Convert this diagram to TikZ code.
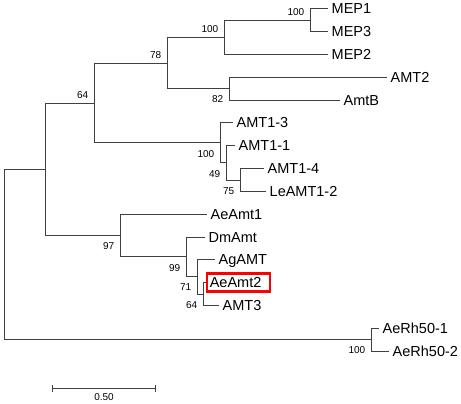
\documentclass[tikz,border=0pt]{standalone}
\usepackage{fontspec}
\setmainfont{Liberation Sans}
\usetikzlibrary{arrows.meta}

\begin{document}
\begin{tikzpicture}[x=1pt,y=-1pt,
    treeline/.style={draw=black!75,line width=1pt},
    leaf/.style={anchor=west,inner xsep=3.5pt,inner ysep=0pt,
      text height=10pt,text depth=0pt,font=\fontsize{14.5}{16}\selectfont},
    bootnum/.style={inner sep=0pt,font=\fontsize{10}{12}\selectfont},
    bootup/.style={bootnum,anchor=south east,xshift=-5.5pt,yshift=4.5pt},
    bootdown/.style={bootnum,anchor=north east,xshift=-5.5pt,yshift=-7pt}]
      \useasboundingbox (0,0) rectangle (461,404);

      %%%%%%%%%%%%%%%%%%%%%%%%%%%%%%%%%%%%%%%%%%%%%%%%%%%%%%%%%%%%%%%%%%%%%%%%%%%
      %%%%  Leaves (one row every 22.8)
      \foreach \i/\nm/\txt/\e in {0/mep1/MEP1/328,1/mep3/MEP3/328,2/mep2/MEP2/328,
          3/amt2/AMT2/387,4/amtb/AmtB/340,5/amt13/AMT1-3/233,6/amt11/AMT1-1/235,
          7/amt14/AMT1-4/264,8/leamt12/LeAMT1-2/266,9/aeamt1/AeAmt1/207,
          10/dmamt/DmAmt/205,11/agamt/AgAMT/215,13/amt3/AMT3/219,
          14/aerh1/AeRh50-1/379,15/aerh2/AeRh50-2/389}
       {\pgfmathsetmacro\yy{9 + 22.8*\i}
        \node[leaf] (\nm) at (\e,\yy) {\txt};
       };

      % the one in the red box
      \node[leaf,draw=red,line width=2.6pt,inner xsep=3pt,text width=57pt,
        align=left,minimum height=18pt] (aeamt2) at (205.5,282.6) {AeAmt2};

      %%%%%%%%%%%%%%%%%%%%%%%%%%%%%%%%%%%%%%%%%%%%%%%%%%%%%%%%%%%%%%%%%%%%%%%%%%%
      %%%%  Inner nodes
      \coordinate (root) at (4,254.5);
      \coordinate (n1) at (45,169.3);
      \coordinate (n2) at (94,103.05);
      \coordinate (n3) at (167,63.15);
      \coordinate (n4) at (224,37.5);
      \coordinate (n5) at (310,20.4);
      \coordinate (n6) at (229,88.8);
      \coordinate (n7) at (220,142.95);
      \coordinate (n8) at (226,162.9);
      \coordinate (n9) at (240,180);
      \coordinate (n10) at (120,235.6);
      \coordinate (n11) at (186,256.95);
      \coordinate (n12) at (197,276.9);
      \coordinate (n13) at (203,294);
      \coordinate (n14) at (371,339.6);

      \foreach \p/\c in {root/n1,root/n14,n1/n2,n1/n10,n2/n3,n2/n7,n3/n4,n3/n6,
          n4/n5,n4/mep2,n5/mep1,n5/mep3,n6/amt2,n6/amtb,n7/amt13,n7/n8,
          n8/amt11,n8/n9,n9/amt14,n9/leamt12,n10/aeamt1,n10/n11,n11/dmamt,
          n11/n12,n12/agamt,n12/n13,n13/aeamt2,n13/amt3,n14/aerh1,n14/aerh2}
       {\draw[treeline] (\p) |- (\c);};

      %%%%%%%%%%%%%%%%%%%%%%%%%%%%%%%%%%%%%%%%%%%%%%%%%%%%%%%%%%%%%%%%%%%%%%%%%%%
      %%%%  Bootstrap values
      \foreach \n/\v in {n5/100,n4/100,n3/78,n2/64}
       {\node[bootup] (bs\n) at (\n) {\v};};
      \foreach \n/\v in {n6/82,n7/100,n8/49,n9/75,n10/97,n11/99,n12/71,n13/64,n14/100}
       {\node[bootdown] (bs\n) at (\n) {\v};};

      %%%%%%%%%%%%%%%%%%%%%%%%%%%%%%%%%%%%%%%%%%%%%%%%%%%%%%%%%%%%%%%%%%%%%%%%%%%
      %%%%  Scale bar
      \coordinate (sbl) at (52,388);
      \coordinate (sbr) at (156,388);
      \draw[treeline,{Bar[width=7pt]}-{Bar[width=7pt]}] (sbl)
        -- node[bootnum,midway,below=5.4pt] (sbtext) {0.50} (sbr);
    \end{tikzpicture}
\end{document}
